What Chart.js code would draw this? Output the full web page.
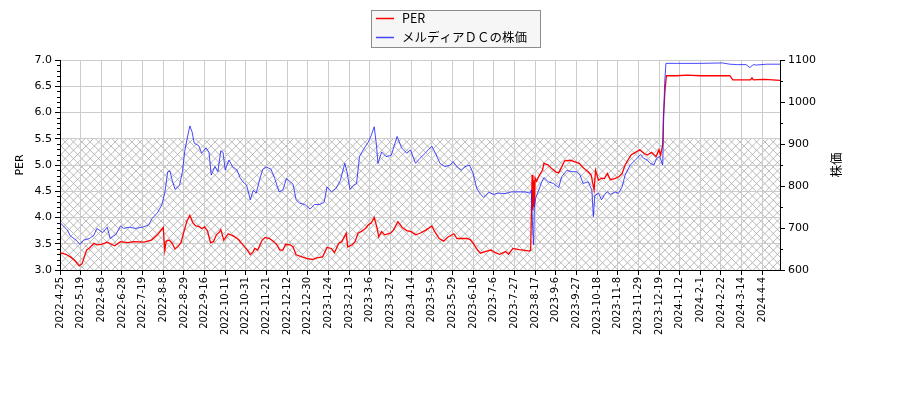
<!DOCTYPE html>
<html>
<head>
<meta charset="utf-8">
<script src="https://cdn.jsdelivr.net/npm/chart.js@4.4.1/dist/chart.umd.min.js"></script>
<style>
    html, body {margin: 0; padding: 0; background: #fff;}
    .chart_wrap {position: relative; width: 900px; height: 400px;}
</style>
</head>
<body>
<div class="chart_wrap"><canvas id="chartPer"></canvas></div>
<script>
//data - tick labels (one every 14 trading days)
const tickLabels = ['2022-4-25','2022-5-19','2022-6-8','2022-6-28','2022-7-19','2022-8-8','2022-8-29','2022-9-16','2022-10-11','2022-10-31','2022-11-21','2022-12-12','2022-12-30','2023-1-24','2023-2-13','2023-3-6','2023-3-27','2023-4-14','2023-5-9','2023-5-29','2023-6-16','2023-7-6','2023-7-27','2023-8-17','2023-9-6','2023-9-27','2023-10-18','2023-11-8','2023-11-29','2023-12-19','2024-1-12','2024-2-1','2024-2-22','2024-3-14','2024-4-4'];
const tickStep = 14;
const lastDay = 488;

//data - PER (trading day index / value)
const perDays = [0,4,7,10,13,15,18,20,23,25,28,32,37,41,46,50,57,62,66,70,71,72,74,76,78,80,82,84,86,88,90,92,94,96,98,100,102,104,106,108,109,111,114,118,121,124,127,129,131,132,134,137,139,142,145,147,149,151,153,156,158,160,164,167,171,174,178,181,184,186,189,191,194,195,198,200,202,204,207,209,211,213,215,216,218,220,224,226,229,232,235,238,241,244,248,252,254,257,260,263,267,269,272,276,278,280,283,285,288,292,295,298,302,304,307,311,314,318,319,320,320.5,321,321.5,322,323,325,327,328,331,333,336,338,340,342,346,349,352,355,358,360,362,363,365,367,369,371,373,376,379,381,383,387,390,393,396,398,401,404,406,407,408.5,409,410,411,418,425,434,445,454,456,463,468,469,470,477,483,488];
const perValues = [3.33,3.30,3.25,3.18,3.08,3.12,3.38,3.42,3.51,3.48,3.49,3.53,3.46,3.54,3.52,3.54,3.53,3.57,3.67,3.81,3.37,3.55,3.57,3.51,3.40,3.45,3.52,3.73,3.93,4.04,3.90,3.84,3.83,3.79,3.82,3.74,3.52,3.54,3.67,3.72,3.77,3.57,3.69,3.64,3.58,3.48,3.38,3.29,3.35,3.41,3.38,3.57,3.62,3.60,3.54,3.48,3.38,3.38,3.49,3.48,3.44,3.29,3.25,3.22,3.20,3.23,3.25,3.43,3.41,3.33,3.51,3.54,3.70,3.44,3.48,3.54,3.70,3.73,3.79,3.86,3.90,4.00,3.79,3.63,3.73,3.67,3.70,3.76,3.92,3.81,3.75,3.73,3.67,3.70,3.76,3.84,3.73,3.60,3.55,3.63,3.69,3.60,3.60,3.60,3.58,3.51,3.38,3.32,3.35,3.38,3.33,3.30,3.35,3.30,3.41,3.39,3.38,3.36,3.38,4.81,4.14,4.71,4.20,4.75,4.69,4.81,4.90,5.03,5.00,4.94,4.87,4.85,4.96,5.08,5.09,5.06,5.03,4.94,4.87,4.81,4.52,4.90,4.71,4.75,4.74,4.84,4.72,4.74,4.78,4.84,5.00,5.19,5.24,5.29,5.22,5.19,5.24,5.16,5.29,5.19,5.38,5.92,6.40,6.70,6.70,6.71,6.70,6.70,6.70,6.62,6.62,6.62,6.66,6.62,6.63,6.62,6.61];

//data - share price (trading day index / yen)
const priceDays = [0,5,7,11,13.5,16,20,23,25,29,32,34,38,41,43,47,51,56,60,62.5,66,69,71,73,74.5,76,78,81,83,84.5,86,88,89.5,91,94,96,99,101,102.5,105,107,109,110.5,112,114.5,117,120,122,124,126.5,129,131,133,135.5,137.5,140,143,145.5,148.5,151,153.5,156,158,160,162.5,166,169.5,172.5,176,179,181,184,187,190,193,194.5,196.5,199,201,203,205.5,209,211,213,214.5,215.5,218,221,224.5,228.5,231.5,235,237.5,241,244,247.5,252,254.5,257.5,261,264.5,266.5,269,272,274.5,277.5,280,282.5,284.5,287,290.5,294,297,302,306,311,315,318.5,319.5,320.4,321,321.5,322.5,324.5,326.5,328,331,334.5,338,340,343.5,347,350,352.5,354.5,358,360.5,361.5,362.5,365,367,369,371,373,376.5,378.5,381,383,386.5,390,393.5,395.5,398,400,402.5,404.5,406.5,408.5,409.2,409.8,410.7,418,434,449,454,459,465,467.5,470,472,479,486,488];
const priceValues = [713,695,681,671,661,671,675,683,699,689,702,675,685,705,699,702,699,702,707,723,736,755,783,834,836,814,792,802,834,882,910,943,929,902,896,878,891,880,826,846,834,884,880,838,862,846,838,820,810,802,767,790,783,818,840,845,840,818,786,790,818,810,804,767,759,756,745,756,756,761,798,786,794,813,854,834,792,802,806,870,886,905,921,941,897,854,881,870,873,918,891,878,886,854,866,878,895,878,854,846,850,858,846,838,846,850,830,794,783,773,785,780,783,782,786,786,786,783,790,695,660,750,773,790,810,820,810,806,796,822,837,834,834,826,806,810,790,727,777,783,767,779,786,780,786,782,798,826,850,862,875,866,862,854,850,866,870,850,969,1044,1092,1092,1092,1093,1090,1089,1089,1082,1089,1088,1090,1090,1090];

//chart - variables
const gridColor = '#cccccc';
const hatchColor = '#a8a8a8';
const perColor = '#ff0000';
const priceColor = 'rgba(40, 40, 255, 0.85)';
const latinFont = "'DejaVu Sans', sans-serif";
const cjkFont = "'Noto Sans CJK JP', sans-serif";

//chart - hatch band, minor ticks, titles, legend
const decorations = {
    id: 'decorations',
    beforeDraw(chart) {
        const {ctx, chartArea, scales} = chart;
        const top = scales.y.getPixelForValue(5.5);
        const bottom = scales.y.getPixelForValue(3.0);
        const gap = 8.33;
        ctx.save();
        ctx.beginPath();
        ctx.rect(chartArea.left, top, chartArea.right - chartArea.left, bottom - top);
        ctx.clip();
        ctx.strokeStyle = hatchColor;
        ctx.lineWidth = 0.8;
        ctx.beginPath();
        const h = bottom - top;
        for (let x = chartArea.left - h; x < chartArea.right + h; x += gap) {
            ctx.moveTo(x, bottom);
            ctx.lineTo(x + h, top);
            ctx.moveTo(x, top);
            ctx.lineTo(x + h, bottom);
        }
        ctx.stroke();
        ctx.restore();
    },
    afterDraw(chart) {
        const {ctx, chartArea, scales} = chart;
        ctx.save();
        //minor ticks
        ctx.strokeStyle = '#000';
        ctx.lineWidth = 1;
        ctx.beginPath();
        for (let i = 30; i <= 70; i++) {
            if (i % 5 === 0) continue;
            const py = Math.round(scales.y.getPixelForValue(i / 10)) + 0.5;
            ctx.moveTo(chartArea.left - 3, py);
            ctx.lineTo(chartArea.left, py);
        }
        for (let v = 650; v < 1100; v += 100) {
            const py = Math.round(scales.y1.getPixelForValue(v)) + 0.5;
            ctx.moveTo(chartArea.right, py);
            ctx.lineTo(chartArea.right + 3, py);
        }
        ctx.stroke();

        //axis titles
        const midY = (chartArea.top + chartArea.bottom) / 2;
        ctx.fillStyle = '#000';
        ctx.textAlign = 'center';
        ctx.textBaseline = 'middle';
        ctx.translate(20, midY);
        ctx.rotate(-Math.PI / 2);
        ctx.font = '11px ' + latinFont;
        ctx.fillText('PER', 0, 0);
        ctx.rotate(Math.PI / 2);
        ctx.translate(-20, -midY);
        ctx.translate(836, midY);
        ctx.rotate(-Math.PI / 2);
        ctx.font = '12.5px ' + cjkFont;
        ctx.fillText('株価', 0, 0);
        ctx.restore();

        //legend
        ctx.save();
        ctx.fillStyle = 'rgba(245, 245, 245, 0.9)';
        ctx.strokeStyle = '#8c8c8c';
        ctx.lineWidth = 1;
        ctx.fillRect(371.5, 10.5, 169, 37);
        ctx.strokeRect(371.5, 10.5, 169, 37);
        ctx.lineWidth = 1.5;
        ctx.strokeStyle = perColor;
        ctx.beginPath();
        ctx.moveTo(376, 18.5);
        ctx.lineTo(394, 18.5);
        ctx.stroke();
        ctx.strokeStyle = priceColor;
        ctx.beginPath();
        ctx.moveTo(376, 37.5);
        ctx.lineTo(394, 37.5);
        ctx.stroke();
        ctx.fillStyle = '#000';
        ctx.font = '12.5px ' + cjkFont;
        ctx.textBaseline = 'middle';
        ctx.textAlign = 'left';
        ctx.fillText('PER', 402, 18);
        ctx.fillText('メルディアＤＣの株価', 402, 37);
        ctx.restore();
    }
};

//chart - line
const ctxPer = document.getElementById('chartPer').getContext('2d');
new Chart(ctxPer, {
    type: 'line',
    data: {
        datasets: [
            {
                label: 'メルディアＤＣの株価',
                data: priceDays.map((d, i) => ({x: d, y: priceValues[i]})),
                yAxisID: 'y1',
                borderColor: priceColor,
                borderWidth: 1,
                pointRadius: 0,
                tension: 0,
                order: 0
            },
            {
                label: 'PER',
                data: perDays.map((d, i) => ({x: d, y: perValues[i]})),
                yAxisID: 'y',
                borderColor: perColor,
                borderWidth: 1.3,
                pointRadius: 0,
                tension: 0,
                order: 1
            }
        ]
    },
    options: {
        animation: false,
        responsive: true,
        maintainAspectRatio: false,
        layout: {padding: {top: 60, left: 0, right: 0, bottom: 0}},
        plugins: {
            legend: {display: false},
            tooltip: {enabled: false}
        },
        scales: {
            x: {
                type: 'linear',
                min: 0,
                max: lastDay,
                afterFit(scale) { scale.height = 130; },
                afterBuildTicks(scale) {
                    scale.ticks = tickLabels.map((_, i) => ({value: i * tickStep}));
                },
                grid: {color: gridColor, tickColor: '#000', tickLength: 5},
                border: {color: '#000'},
                ticks: {
                    autoSkip: false,
                    minRotation: 90,
                    maxRotation: 90,
                    padding: 2,
                    color: '#000',
                    font: {family: latinFont, size: 10},
                    callback: v => tickLabels[Math.round(v / tickStep)]
                }
            },
            y: {
                position: 'left',
                min: 3,
                max: 7,
                afterFit(scale) { scale.width = 60; },
                grid: {color: gridColor, tickColor: '#000', tickLength: 5},
                border: {color: '#000'},
                ticks: {
                    stepSize: 0.5,
                    padding: 3,
                    color: '#000',
                    font: {family: latinFont, size: 11},
                    callback: v => v.toFixed(1)
                }
            },
            y1: {
                position: 'right',
                min: 600,
                max: 1100,
                afterFit(scale) { scale.width = 120; },
                grid: {drawOnChartArea: false, tickColor: '#000', tickLength: 5},
                border: {color: '#000'},
                ticks: {
                    stepSize: 100,
                    padding: 3,
                    color: '#000',
                    font: {family: latinFont, size: 11},
                    callback: v => String(v)
                }
            }
        }
    },
    plugins: [decorations]
});
</script>
</body>
</html>
